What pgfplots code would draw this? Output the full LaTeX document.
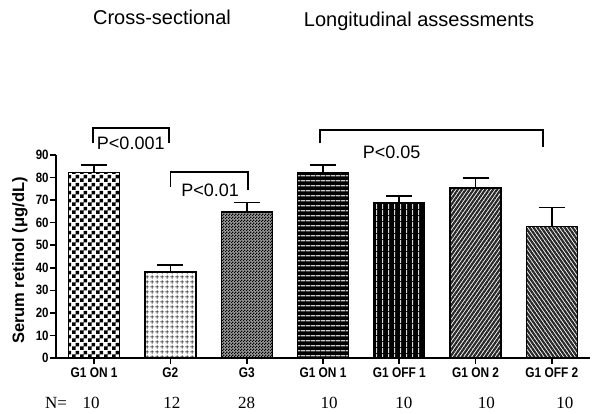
\documentclass[border=0pt]{standalone}
\usepackage{fontspec}
\setmainfont{Liberation Sans}
\newfontfamily\serifN{Liberation Serif}
\usepackage{pgfplots}
\pgfplotsset{compat=1.18}
\usetikzlibrary{patterns,patterns.meta}

\pgfdeclarepatternformonly{bigchecker}{\pgfqpoint{0pt}{0pt}}{\pgfqpoint{8pt}{8pt}}{\pgfqpoint{8pt}{8pt}}{%
  \pgfpathrectangle{\pgfqpoint{0pt}{0pt}}{\pgfqpoint{4pt}{4pt}}%
  \pgfpathrectangle{\pgfqpoint{4pt}{4pt}}{\pgfqpoint{4pt}{4pt}}%
  \pgfusepath{fill}}
\pgfdeclarepatternformonly{smallchecker}{\pgfqpoint{0pt}{0pt}}{\pgfqpoint{3pt}{3pt}}{\pgfqpoint{3pt}{3pt}}{%
  \pgfpathrectangle{\pgfqpoint{0pt}{0pt}}{\pgfqpoint{1.5pt}{1.5pt}}%
  \pgfpathrectangle{\pgfqpoint{1.5pt}{1.5pt}}{\pgfqpoint{1.5pt}{1.5pt}}%
  \pgfusepath{fill}}
\pgfdeclarepatternformonly{biggrid}{\pgfqpoint{0pt}{0pt}}{\pgfqpoint{5pt}{5pt}}{\pgfqpoint{5pt}{5pt}}{%
  \pgfpathrectangle{\pgfqpoint{0pt}{2.1pt}}{\pgfqpoint{5pt}{0.8pt}}%
  \pgfpathrectangle{\pgfqpoint{2.1pt}{0pt}}{\pgfqpoint{0.8pt}{5pt}}%
  \pgfusepath{fill}}
\pgfdeclarepatternformonly{hstripes}{\pgfqpoint{0pt}{0pt}}{\pgfqpoint{4.7pt}{4.7pt}}{\pgfqpoint{4.7pt}{4.7pt}}{%
  \pgfpathrectangle{\pgfqpoint{0pt}{1.7pt}}{\pgfqpoint{4.7pt}{1.3pt}}%
  \pgfusepath{fill}}
\pgfdeclarepatternformonly{vstripes}{\pgfqpoint{0pt}{0pt}}{\pgfqpoint{5.5pt}{5.5pt}}{\pgfqpoint{5.5pt}{5.5pt}}{%
  \pgfpathrectangle{\pgfqpoint{2.2pt}{0pt}}{\pgfqpoint{1.1pt}{5.5pt}}%
  \pgfusepath{fill}}

\begin{document}
\begin{tikzpicture}[x=1pt,y=1pt]
\path[use as bounding box] (0,0) rectangle (600,414);
\begin{axis}[
  at={(56pt,56pt)}, anchor=south west,
  scale only axis, width=534pt, height=203pt,
  xmin=-0.5, xmax=6.5, ymin=0, ymax=90,
  axis x line*=bottom, axis y line*=left,
  axis line style={-, line width=1.6pt, black},
  xtick={0,1,2,3,4,5,6},
  xticklabels={G1 ON 1, G2, G3, G1 ON 1, G1 OFF 1, G1 ON 2, G1 OFF 2},
  ytick={0,10,...,90},
  tick align=outside, major tick length=6pt,
  tick style={line width=1.6pt, black},
  /pgf/number format/assume math mode=true,
  yticklabel style={font=\fontsize{13.5}{13.5}\selectfont\bfseries, inner sep=1.5pt, xscale=0.85},
  xticklabel style={font=\fontsize{14}{14}\selectfont\bfseries, xscale=0.85},
  ylabel={Serum retinol (μg/dL)},
  ylabel style={font=\fontsize{16.5}{16.5}\selectfont\bfseries, at={(axis description cs:-0.0674,0.48)}, anchor=center},
  clip=false,
]
% bars
\addplot[ybar, bar width=51pt, bar shift=0pt, draw=black, line width=1.4pt,
  preaction={fill=white}, pattern=bigchecker, pattern color=black]
  coordinates {(0,82.3)};
\addplot[ybar, bar width=51pt, bar shift=0pt, draw=black, line width=1.4pt,
  preaction={fill=white}, pattern=biggrid, pattern color=black]
  coordinates {(1,38.2)};
\addplot[ybar, bar width=51pt, bar shift=0pt, draw=black, line width=1.4pt,
  preaction={fill=black!40}, pattern=smallchecker, pattern color=black]
  coordinates {(2,64.8)};
\addplot[ybar, bar width=51pt, bar shift=0pt, draw=black, line width=1.4pt,
  preaction={fill=black}, pattern=hstripes, pattern color=white!80!black]
  coordinates {(3,82.1)};
\addplot[ybar, bar width=51pt, bar shift=0pt, draw=black, line width=1.4pt,
  preaction={fill=black}, pattern=vstripes, pattern color=white!85!black]
  coordinates {(4,68.8)};
\addplot[ybar, bar width=51pt, bar shift=0pt, draw=black, line width=1.4pt,
  preaction={fill=white}, pattern={Lines[angle=55, distance=3.2pt, line width=2.2pt]}, pattern color=black!85]
  coordinates {(5,75.4)};
\addplot[ybar, bar width=51pt, bar shift=0pt, draw=black, line width=1.4pt,
  preaction={fill=white}, pattern={Lines[angle=-55, distance=3.2pt, line width=2.2pt]}, pattern color=black!85]
  coordinates {(6,58.2)};
% error bars (upper SEM)
\addplot[draw=none, mark=none, forget plot,
  error bars/.cd, y dir=plus, y explicit,
  error bar style={draw=black, line width=1.6pt, solid},
  error mark options={rotate=90, mark size=13pt, line width=1.6pt, draw=black}]
  coordinates {
    (0,82.3) +- (0,3.3)
    (1,38.2) +- (0,3.0)
    (2,64.8) +- (0,4.2)
    (3,82.1) +- (0,3.4)
    (4,68.8) +- (0,3.0)
    (5,75.4) +- (0,4.4)
    (6,58.2) +- (0,8.5)
  };
% significance brackets
\draw[line width=1.8pt, black] (axis cs:-0.01,95.3) -- (axis cs:-0.01,101.95) -- (axis cs:0.98,101.95) -- (axis cs:0.98,95.3);
\node[font=\fontsize{18}{18}\selectfont, anchor=center] at (axis cs:0.48,95.3) {P<0.001};
\draw[line width=1.8pt, black] (axis cs:1.0,75.9) -- (axis cs:1.0,82.5) -- (axis cs:2.02,82.5) -- (axis cs:2.02,74.5);
\node[font=\fontsize{18}{18}\selectfont, anchor=center] at (axis cs:1.52,74.5) {P<0.01};
\draw[line width=1.8pt, black] (axis cs:2.96,95.3) -- (axis cs:2.96,101.1) -- (axis cs:5.88,101.1) -- (axis cs:5.88,93.5);
\node[font=\fontsize{18}{18}\selectfont, anchor=center] at (axis cs:3.9,91.3) {P<0.05};
% N row
\node[font=\serifN\fontsize{17}{17}\selectfont, anchor=center] at (axis cs:-0.5,0) [yshift=-45pt] {N=};
\node[font=\serifN\fontsize{17}{17}\selectfont, anchor=center] at (axis cs:-0.04,0) [yshift=-45pt] {10};
\node[font=\serifN\fontsize{17}{17}\selectfont, anchor=center] at (axis cs:1.02,0) [yshift=-45pt] {12};
\node[font=\serifN\fontsize{17}{17}\selectfont, anchor=center] at (axis cs:2.0,0) [yshift=-45pt] {28};
\node[font=\serifN\fontsize{17}{17}\selectfont, anchor=center] at (axis cs:3.08,0) [yshift=-45pt] {10};
\node[font=\serifN\fontsize{17}{17}\selectfont, anchor=center] at (axis cs:4.06,0) [yshift=-45pt] {10};
\node[font=\serifN\fontsize{17}{17}\selectfont, anchor=center] at (axis cs:5.14,0) [yshift=-45pt] {10};
\node[font=\serifN\fontsize{17}{17}\selectfont, anchor=center] at (axis cs:6.17,0) [yshift=-45pt] {10};
\end{axis}
\node[font=\fontsize{20}{20}\selectfont, anchor=base] at (162,389) {Cross-sectional};
\node[font=\fontsize{20}{20}\selectfont, anchor=base] at (419,387) {Longitudinal assessments};
\end{tikzpicture}
\end{document}
